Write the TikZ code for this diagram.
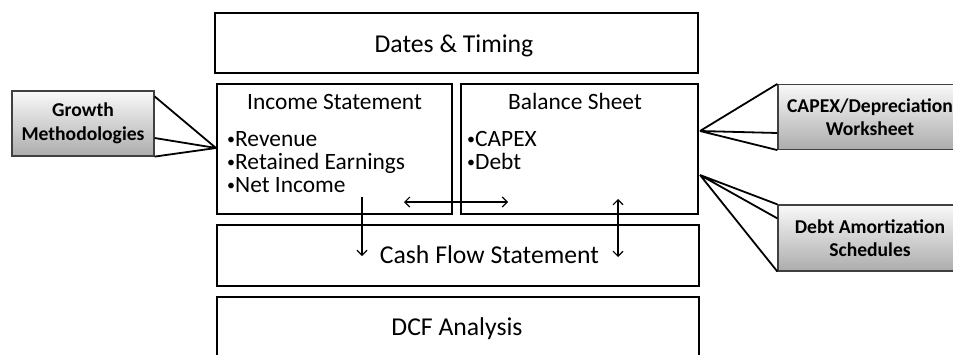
\documentclass[tikz,border=0pt]{standalone}
\usepackage{fontspec}
\setmainfont{Carlito}
\usetikzlibrary{arrows.meta}

\newcommand{\bul}{{\fontsize{16}{16}\selectfont\raisebox{1.5pt}{•}}}

\begin{document}
\begin{tikzpicture}[x=1pt, y=-1pt, >={Straight Barb[length=5pt,width=10pt]},
    block/.style={draw, line width=2.2pt, minimum height=60pt, inner sep=0pt},
    label/.style={anchor=base, inner sep=0pt, font=\fontsize{23.4}{27}\selectfont},
    biglabel/.style={label, font=\fontsize{25.7}{30}\selectfont},
    item/.style={anchor=base west, inner sep=0pt, font=\fontsize{23.4}{27}\selectfont},
    callout/.style={draw=black!75, line width=1.2pt, top color=gray!5, bottom color=gray!65,
        align=center, inner sep=0pt, font=\fontsize{19.6}{23.5}\selectfont\bfseries},
    pin/.style={line width=1.8pt},
    flow/.style={line width=1.1pt}]
    \useasboundingbox (0,0) rectangle (953,354);

    % Main blocks
    \node[block, minimum width=483pt] (dates) at (456.5,43) {};
    \node[block, minimum width=235pt, minimum height=130pt] (income) at (334.5,149) {};
    \node[block, minimum width=237pt, minimum height=130pt] (balance) at (579.5,149) {};
    \node[block, minimum width=482pt, minimum height=61pt] (cash) at (458,255.5) {};
    \node[block, minimum width=482pt] (dcf) at (458,327) {};

    % Block texts
    \node[biglabel] (datesT) at (454,52) {Dates \& Timing};
    \node[label] (incomeT) at (334.5,109) {Income Statement};
    \node[item] (inc1) at (227,146) {\bul Revenue};
    \node[item] (inc2) at (227,169) {\bul Retained Earnings};
    \node[item] (inc3) at (227,192) {\bul Net Income};
    \node[label] (balanceT) at (575,109) {Balance Sheet};
    \node[item] (bal1) at (467,146) {\bul CAPEX};
    \node[item] (bal2) at (467,169) {\bul Debt};
    \node[biglabel] (cashT) at (489.5,263) {Cash Flow Statement};
    \node[biglabel] (dcfT) at (457,335) {DCF Analysis};

    % Flows
    \coordinate (niTop) at (362,197);
    \coordinate (niBot) at (362,256);
    \draw[flow, ->] (niTop) -- (niBot);
    \coordinate (linkL) at (404,202);
    \coordinate (linkR) at (508,202);
    \draw[flow, <->] (linkL) -- (linkR);
    \coordinate (bsTop) at (618,199);
    \coordinate (bsBot) at (618,257);
    \draw[flow, <->] (bsTop) -- (bsBot);

    % Side callouts
    \node[callout, minimum width=142pt, minimum height=65pt] (growth) at (83,123.5) {Growth\\Methodologies};
    \node[callout, minimum width=184pt, minimum height=65pt] (capex) at (870,117) {CAPEX/Depreciation\\Worksheet};
    \node[callout, minimum width=184pt, minimum height=66pt] (debt) at (870,238) {Debt Amortization\\Schedules};

    \coordinate (growthPin) at (216,148);
    \draw[pin] (growthPin) -- ([yshift=-6pt]growth.north east)
        (growthPin) -- ([yshift=-14.5pt]growth.east)
        (growthPin) -- (growth.south east);
    \coordinate (capexPin) at (700,131);
    \draw[pin] (capexPin) -- (capex.north west)
        (capexPin) -- ([yshift=-16pt]capex.west)
        (capexPin) -- (capex.south west);
    \coordinate (debtPin) at (700,175);
    \draw[pin] (debtPin) -- (debt.north west)
        (debtPin) -- ([yshift=-14pt]debt.north west)
        (debtPin) -- (debt.south west);
\end{tikzpicture}
\end{document}
